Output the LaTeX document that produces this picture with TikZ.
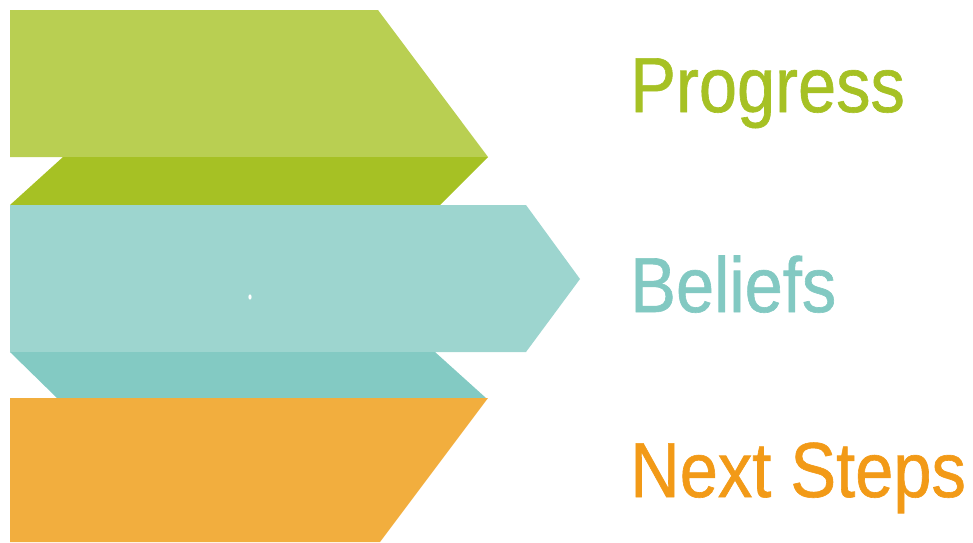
\documentclass[tikz,border=0pt]{standalone}
\usepackage{fontspec}
\setmainfont[FakeStretch=0.88,FakeBold=0.8]{Liberation Sans}
\definecolor{greenlight}{HTML}{B9CF52}
\definecolor{greendark}{HTML}{A6C124}
\definecolor{teallight}{HTML}{9DD5CF}
\definecolor{tealdark}{HTML}{83CAC3}
\definecolor{orangelight}{HTML}{F2AE3E}
\definecolor{orangetext}{HTML}{F29A17}
\definecolor{tealtext}{HTML}{82C9C2}

\tikzstyle{band}  = [draw=none]
\tikzstyle{label} = [anchor=base west,inner sep=0pt,font=\fontsize{78}{80}\selectfont]

\begin{document}
\begin{tikzpicture}[x=1pt,y=-1pt]
\useasboundingbox (0,0) rectangle (973,542);
% Draw the green arrow and its fold
\fill[band,greenlight] (10,10) -- (378,10) -- (488,157) -- (10,157) -- cycle;
\fill[band,greendark] (63,157) -- (488,157) -- (440,205) -- (10,205) -- cycle;
% Draw the teal arrow and its fold
\fill[band,teallight] (10,205) -- (526,205) -- (580,279) -- (526,352) -- (10,352) -- cycle;
\fill[band,tealdark] (10,352) -- (435,352) -- (486,398) -- (57,398) -- cycle;
\fill[white] (250,297) ellipse (1.6 and 2.6);
% Draw the orange arrow
\fill[band,orangelight] (10,398) -- (488,398) -- (380,542) -- (10,542) -- cycle;
% Labels
\node[label,text=greendark]  (progress) at (630,112) {Progress};
\node[label,text=tealtext]   (beliefs)  at (630,312) {Beliefs};
\node[label,text=orangetext] (next)     at (630,497) {Next Steps};
\end{tikzpicture}
\end{document}
